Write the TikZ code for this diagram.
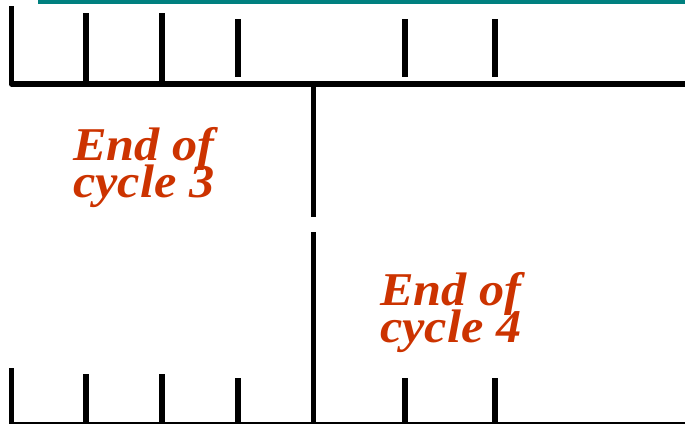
\documentclass[tikz,border=0pt]{standalone}
\usepackage{fontspec}
\setmainfont{Liberation Serif}
\newfontfamily\labelfont[FakeStretch=1.07]{Liberation Serif}
\newcommand\cyclefont{\labelfont\bfseries\itshape\fontsize{47}{36.5}\selectfont
  \setlength{\lineskiplimit}{-100pt}}
\definecolor{rulerteal}{RGB}{0,128,127}
\definecolor{labelred}{RGB}{204,51,0}
\begin{document}
\begin{tikzpicture}[x=1pt,y=-1pt,
  frame/.style={line width=5.5pt,line join=round},
  tick/.style={line width=5.5pt},
  cyclelabel/.style={inner sep=0pt,anchor=base west,align=left,text=labelred,
    font=\cyclefont}]
  \useasboundingbox (0,0) rectangle (685,423);
  % teal band along the top edge
  \fill[rulerteal] (38,0) rectangle (685,4);
  % upper ruler
  \draw[frame] (11.5,6) -- (11.5,84) -- (690,84);
  \foreach \x in {86,162} \draw[tick] (\x,13) -- (\x,84);
  \foreach \x in {238,405,495} \draw[tick] (\x,19) -- (\x,77);
  % divider between the two cycles
  \draw[tick] (313.5,84) -- (313.5,216.5);
  \draw[tick] (313.5,232) -- (313.5,423);
  % lower ruler
  \draw[frame] (11.5,368) -- (11.5,424.5) -- (690,424.5);
  \foreach \x in {86,162} \draw[tick] (\x,374) -- (\x,424);
  \foreach \x in {238,405,495} \draw[tick] (\x,378) -- (\x,424);
  % labels (anchored at the baseline of their last line)
  \node[cyclelabel] (end3) at (73,197) {End of\\cycle 3};
  \node[cyclelabel] (end4) at (380,342) {End of\\cycle 4};
\end{tikzpicture}
\end{document}
